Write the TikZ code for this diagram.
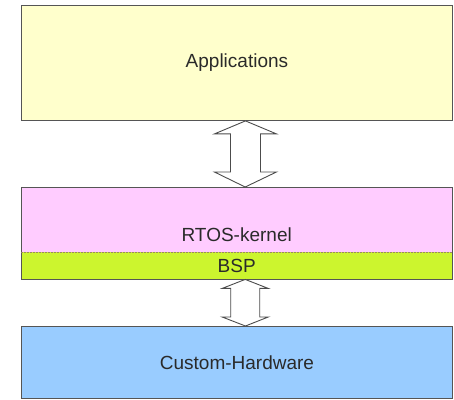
\documentclass[tikz,border=0pt]{standalone}
\usepackage{fontspec}
\setmainfont{Liberation Sans}
\usetikzlibrary{calc}
\definecolor{appfill}{HTML}{FFFFCC}
\definecolor{rtosfill}{HTML}{FFCCFF}
\definecolor{bspfill}{HTML}{CCF52E}
\definecolor{hwfill}{HTML}{99CCFF}
\definecolor{edge}{HTML}{555555}
\definecolor{sep}{HTML}{9A8A60}
\definecolor{txt}{HTML}{2A2A2A}
\begin{document}
\begin{tikzpicture}[x=1pt,y=1pt,
  layer/.style={minimum width=431pt, minimum height=#1, anchor=north west, inner sep=0pt,
    font=\fontsize{19}{22}\selectfont, text=txt},
  lbl/.style={font=\fontsize{19}{22}\selectfont, text=txt, inner sep=0pt},
  frame/.style={draw=edge, line width=0.9pt},
  blockarrow/.style={draw=edge!90!black, fill=white, line width=0.9pt, line join=miter}
]
\useasboundingbox (0,0) rectangle (454,-399);
% layers
\node[layer=115pt, fill=appfill, frame] (app) at (21,-5) {Applications};
\node[layer=65pt, fill=rtosfill, label={[lbl, yshift=-15pt]center:RTOS-kernel}] (rtos) at (21,-187) {};
\node[layer=27pt, fill=bspfill] (bsp) at (21,-252) {BSP};
\node[layer=72pt, fill=hwfill, frame] (hw) at (21,-326) {Custom-Hardware};
% frame of RTOS + BSP
\draw[frame] (rtos.north west) rectangle (bsp.south east);
\draw[sep, line width=0.9pt, dash pattern=on 2pt off 1pt] (rtos.south west) -- (rtos.south east);
% arrow 1: Applications <-> RTOS
\coordinate (a1) at ($(app.south)+(8.5,0)$);
\coordinate (b1) at ($(rtos.north)+(8.5,0)$);
\draw[blockarrow] let \p1=(a1), \p2=(b1) in
  (\x1,\y1) -- (\x1+31pt,\y1-13pt) -- (\x1+15pt,\y1-13pt) -- (\x1+15pt,\y2+15pt)
  -- (\x1+31pt,\y2+15pt) -- (\x2,\y2) -- (\x1-31pt,\y2+15pt) -- (\x1-15pt,\y2+15pt)
  -- (\x1-15pt,\y1-13pt) -- (\x1-31pt,\y1-13pt) -- cycle;
% arrow 2: BSP <-> Custom-Hardware
\coordinate (a2) at ($(bsp.south)+(8.5,0)$);
\coordinate (b2) at ($(hw.north)+(8.5,0)$);
\draw[blockarrow] let \p1=(a2), \p2=(b2) in
  (\x1,\y1) -- (\x1+23pt,\y1-9pt) -- (\x1+14.5pt,\y1-9pt) -- (\x1+14.5pt,\y2+9pt)
  -- (\x1+23pt,\y2+9pt) -- (\x2,\y2) -- (\x1-23pt,\y2+9pt) -- (\x1-14.5pt,\y2+9pt)
  -- (\x1-14.5pt,\y1-9pt) -- (\x1-23pt,\y1-9pt) -- cycle;
\end{tikzpicture}
\end{document}
